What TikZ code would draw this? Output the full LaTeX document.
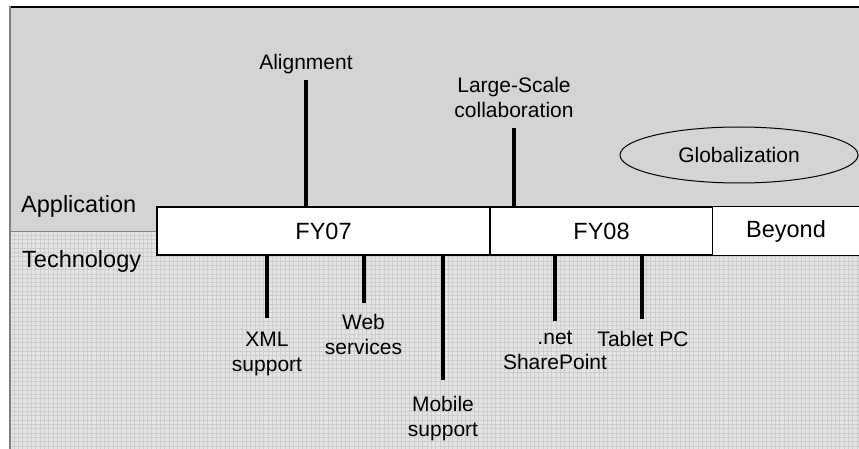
\documentclass[tikz,border=0pt]{standalone}
\usepackage{fontspec}
\setmainfont{Liberation Sans}
\usetikzlibrary{shapes.geometric}
\definecolor{appbg}{HTML}{D4D4D4}
\definecolor{techbg}{HTML}{E4E4E4}
\definecolor{techgrid}{HTML}{CDCDCD}
\definecolor{edgegray}{HTML}{7F7F7F}
\tikzset{
  lbl/.style={inner sep=0pt, align=center, font=\fontsize{21}{25}\selectfont},
  side/.style={inner sep=0pt, anchor=base west, font=\fontsize{23.5}{28}\selectfont},
  seg/.style={rectangle, draw=black, line width=1.3pt, fill=white, minimum height=48pt, inner sep=0pt, font=\fontsize{23.5}{28}\selectfont},
  stem/.style={line width=3.6pt, black},
}
\begin{document}
\begin{tikzpicture}[x=1pt, y=-1pt]
\useasboundingbox (0,0) rectangle (859,449);
% backgrounds
\fill[appbg] (10,7) rectangle (859,231);
\fill[techbg] (10,231) rectangle (859,449);
\begin{scope}
\clip (10,231) rectangle (859,449);
\foreach \i in {0,...,200} {
  \draw[techgrid, line width=0.9pt] (10+4.3*\i,231) -- (10+4.3*\i,449);
}
\foreach \j in {0,...,52} {
  \draw[techgrid, line width=0.9pt] (10,231+4.3*\j) -- (859,231+4.3*\j);
}
\end{scope}
\draw[gray, line width=1pt] (10,231) -- (859,231);
\draw[black, line width=2pt] (9,7) -- (859,7);
\draw[edgegray, line width=2pt] (10,6) -- (10,449);

% side labels
\node[side] (app) at (21,212) {Application};
\node[side] (tech) at (22,267) {Technology};

% timeline bar
\node[seg, minimum width=333pt] (fy07) at (323.5,231) {FY07};
\node[seg, minimum width=223pt] (fy08) at (601.5,231) {FY08};
\node[seg, draw=none, minimum width=146pt] (beyond) at (786,231) {Beyond};
\draw[line width=1.3pt] (beyond.north west) -- ([xshift=6pt]beyond.north east);
\draw[line width=1.3pt] (beyond.south west) -- ([xshift=6pt]beyond.south east);

% application labels
\node[lbl, anchor=north] (align) at (306,54.5) {Alignment};
\node[lbl, anchor=north] (large) at (514,76.7) {Large-Scale\\collaboration};
\node[lbl, ellipse, draw, line width=1pt, minimum width=238pt, minimum height=56pt] (glob) at (739,155) {Globalization};

% technology labels
\node[lbl, anchor=north] (xml) at (267,331.5) {XML\\support};
\node[lbl, anchor=north] (web) at (363.5,314.5) {Web\\services};
\node[lbl, anchor=north] (mobile) at (443,396.5) {Mobile\\support};
\node[lbl, anchor=north] (net) at (555,329.5) {\vphantom{Al}.net\\SharePoint};
\node[lbl, anchor=north] (tablet) at (643,331.5) {Tablet PC};

% connectors
\draw[stem, shorten <=5.6pt] (align.south) -- (align.south |- fy07.north);
\draw[stem, shorten <=10pt] (large.south) -- (large.south |- fy08.north);
\draw[stem, shorten <=13.5pt] (xml.north) -- (xml.north |- fy07.south);
\draw[stem, shorten <=11.5pt] ([xshift=0.5pt]web.north) -- ([xshift=0.5pt]web.north |- fy07.south);
\draw[stem, shorten <=16.5pt] (mobile.north) -- (mobile.north |- fy07.south);
\draw[stem, shorten <=8.5pt] (net.north) -- (net.north |- fy08.south);
\draw[stem, shorten <=12.5pt] ([xshift=-1pt]tablet.north) -- ([xshift=-1pt]tablet.north |- fy08.south);
\end{tikzpicture}
\end{document}
